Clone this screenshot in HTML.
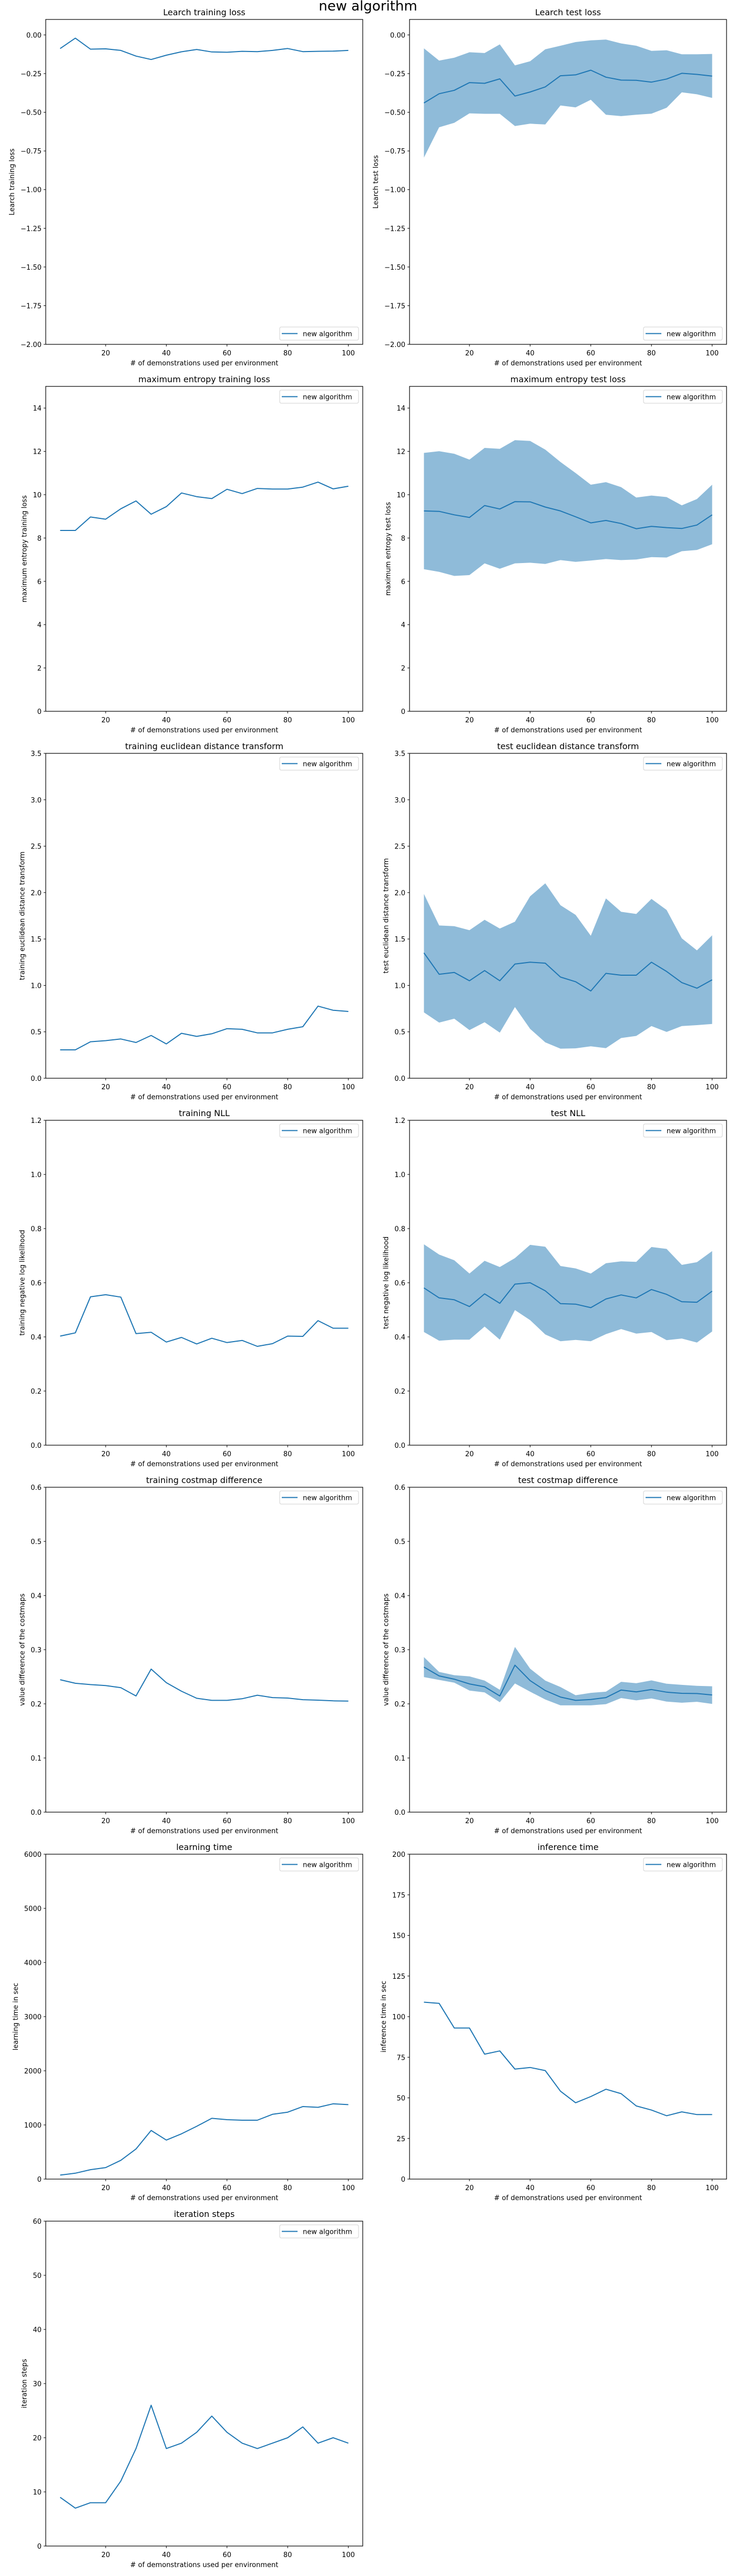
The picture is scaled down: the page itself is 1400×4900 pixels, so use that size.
<!DOCTYPE html>
<html><head><meta charset="utf-8"><style>
html,body{margin:0;padding:0;background:#fff;}
svg{display:block;font-family:"DejaVu Sans","Liberation Sans",sans-serif;}
</style></head><body>
<svg id="fig" width="1400" height="4900" viewBox="0 0 1400 4900" xmlns="http://www.w3.org/2000/svg">
<rect width="1400" height="4900" fill="#fff"/>
<text x="700" y="20" text-anchor="middle" font-size="26">new algorithm</text>
</svg>
<script>
const xCategories = [5,10,15,20,25,30,35,40,45,50,55,60,65,70,75,80,85,90,95,100];
const xTicks = [20,40,60,80,100];

const learchTrainMean = [-0.088,-0.021,-0.092,-0.09,-0.1,-0.137,-0.159,-0.131,-0.109,-0.094,-0.11,-0.112,-0.106,-0.108,-0.1,-0.088,-0.108,-0.106,-0.105,-0.1];
const learchTestMean = [-0.44,-0.38,-0.358,-0.308,-0.313,-0.284,-0.395,-0.369,-0.336,-0.264,-0.258,-0.228,-0.273,-0.292,-0.293,-0.305,-0.285,-0.248,-0.255,-0.266];
const learchTestUpper = [-0.087,-0.166,-0.147,-0.112,-0.117,-0.061,-0.197,-0.170,-0.093,-0.07,-0.046,-0.035,-0.03,-0.055,-0.07,-0.103,-0.099,-0.125,-0.125,-0.123];
const learchTestLower = [-0.793,-0.597,-0.568,-0.507,-0.51,-0.51,-0.589,-0.574,-0.579,-0.456,-0.468,-0.419,-0.516,-0.525,-0.516,-0.509,-0.471,-0.371,-0.384,-0.407];
const learchTicks = [-2.0,-1.75,-1.5,-1.25,-1.0,-0.75,-0.5,-0.25,0.0];

const maxentTrainMean = [8.35,8.35,8.97,8.87,9.35,9.71,9.10,9.45,10.08,9.91,9.82,10.25,10.05,10.29,10.26,10.26,10.35,10.58,10.27,10.39];
const maxentTestMean = [9.25,9.23,9.07,8.95,9.50,9.34,9.68,9.67,9.43,9.25,8.98,8.70,8.81,8.67,8.43,8.54,8.48,8.44,8.60,9.07];
const maxentTestUpper = [11.93,12.01,11.89,11.62,12.16,12.12,12.52,12.48,12.08,11.51,11.0,10.46,10.58,10.35,9.87,9.96,9.89,9.51,9.80,10.46];
const maxentTestLower = [6.56,6.44,6.25,6.29,6.83,6.58,6.83,6.86,6.80,6.98,6.90,6.96,7.03,6.98,7.01,7.12,7.10,7.39,7.45,7.71];
const maxentTicks = [0,2,4,6,8,10,12,14];

const edtTrainMean = [0.306,0.306,0.393,0.405,0.423,0.385,0.461,0.370,0.484,0.451,0.479,0.534,0.527,0.489,0.489,0.527,0.555,0.777,0.732,0.719];
const edtTestMean = [1.35,1.12,1.14,1.05,1.16,1.05,1.23,1.25,1.24,1.09,1.04,0.94,1.13,1.11,1.11,1.25,1.15,1.03,0.97,1.06];
const edtTestUpper = [1.985,1.646,1.638,1.595,1.707,1.613,1.686,1.96,2.10,1.864,1.76,1.535,1.937,1.793,1.77,1.932,1.813,1.507,1.378,1.54];
const edtTestLower = [0.709,0.600,0.641,0.519,0.603,0.491,0.767,0.532,0.387,0.319,0.322,0.344,0.324,0.433,0.456,0.562,0.499,0.562,0.572,0.585];
const edtTicks = [0.0,0.5,1.0,1.5,2.0,2.5,3.0,3.5];

const nllTrainMean = [0.403,0.415,0.548,0.556,0.547,0.412,0.417,0.381,0.398,0.374,0.395,0.379,0.387,0.365,0.375,0.403,0.402,0.460,0.432,0.432];
const nllTestMean = [0.581,0.544,0.537,0.512,0.559,0.524,0.595,0.600,0.570,0.523,0.521,0.508,0.540,0.555,0.544,0.575,0.557,0.530,0.528,0.569];
const nllTestUpper = [0.742,0.704,0.683,0.634,0.681,0.658,0.691,0.740,0.733,0.662,0.653,0.634,0.672,0.679,0.677,0.732,0.725,0.666,0.676,0.717];
const nllTestLower = [0.418,0.386,0.390,0.390,0.438,0.390,0.499,0.462,0.409,0.384,0.389,0.384,0.410,0.429,0.412,0.418,0.388,0.394,0.379,0.420];
const nllTicks = [0.0,0.2,0.4,0.6,0.8,1.0,1.2];

const costTrainMean = [0.2446,0.238,0.2355,0.2338,0.2298,0.2146,0.2642,0.239,0.2233,0.2103,0.2064,0.2064,0.2094,0.2159,0.2116,0.2107,0.2077,0.2068,0.2055,0.2051];
const costTestMean = [0.268,0.2516,0.2455,0.2368,0.2316,0.2146,0.2715,0.2429,0.2246,0.2125,0.2064,0.2081,0.2116,0.2255,0.222,0.2264,0.2216,0.2194,0.219,0.2164];
const costTestUpper = [0.2863,0.2589,0.2529,0.2507,0.2429,0.2259,0.305,0.265,0.2429,0.2311,0.2159,0.2203,0.2224,0.2407,0.2381,0.2433,0.2372,0.235,0.2333,0.2324];
const costTestLower = [0.2494,0.2442,0.239,0.2246,0.2211,0.2029,0.2377,0.2224,0.2081,0.1972,0.1972,0.1972,0.1994,0.2107,0.2064,0.2099,0.2042,0.202,0.2038,0.1999];
const costTicks = [0.0,0.1,0.2,0.3,0.4,0.5,0.6];

const learnTime = [74,109,174,213,347,556,898,720,836,975,1122,1097,1087,1087,1196,1236,1340,1325,1390,1375];
const learnTicks = [0,1000,2000,3000,4000,5000,6000];
const inferTime = [108.9,108.2,93.0,93.0,76.9,78.9,67.7,68.7,66.8,54.1,47.0,50.8,55.3,52.6,45.0,42.5,39.0,41.4,39.7,39.7];
const inferTicks = [0,25,50,75,100,125,150,175,200];
const iterSteps = [9,7,8,8,12,18,26,18,19,21,24,21,19,18,19,20,22,19,20,19];
const iterTicks = [0,10,20,30,40,50,60];

const NS = "http://www.w3.org/2000/svg";
const svg = document.getElementById('fig');
const COLOR = "#1f77b4";
function mk(tag, attrs, parent){
  const e = document.createElementNS(NS, tag);
  for (const k in attrs) e.setAttribute(k, attrs[k]);
  (parent||svg).appendChild(e);
  return e;
}
function fmt(v, dec){
  const s = Math.abs(v).toFixed(dec);
  return (v < 0 ? "\u2212" : "") + s;
}
function drawChart(o){
  const L = o.col === 0 ? 87 : 779, W = 603;
  const T = 37 + 698*o.row, H = 618;
  const g = mk('g', {});
  
  
  const xmin = 0.25, xmax = 104.75;
  const xs = v => L + (v - xmin)/(xmax - xmin)*W;
  const ys = v => T + H - (v - o.ymin)/(o.ymax - o.ymin)*H;
  // band
  if (o.upper){
    let d = xCategories.map((x,i)=>(i?'L':'M')+xs(x).toFixed(1)+','+ys(o.upper[i]).toFixed(1)).join('');
    for (let i = xCategories.length-1; i>=0; i--) d += 'L'+xs(xCategories[i]).toFixed(1)+','+ys(o.lower[i]).toFixed(1);
    const band = mk('path', {d: d+'Z', fill: COLOR, 'fill-opacity': 0.5, stroke: 'none'}, g);
    
    
  }
  const line = mk('polyline', {points: xCategories.map((x,i)=>xs(x).toFixed(1)+','+ys(o.mean[i]).toFixed(1)).join(' '), fill:'none', stroke: COLOR, 'stroke-width': 2, 'stroke-linejoin':'round'}, g);
  
  
  // frame
  const fr = mk('rect', {x: L, y: T, width: W, height: H, fill: 'none', stroke: '#000', 'stroke-width': 1.2}, g);
  
  
  // x ticks
  xTicks.forEach(t=>{
    const x = xs(t);
    mk('line', {x1:x, x2:x, y1:T+H, y2:T+H+4, stroke:'#000', 'stroke-width':1}, g);
    const tx = mk('text', {x:x, y:T+H+21, 'text-anchor':'middle', 'font-size':13}, g);
    tx.textContent = String(t);
    
    
  });
  // y ticks
  let maxw = 0;
  o.ticks.forEach(t=>{
    const y = ys(t);
    mk('line', {x1:L-4, x2:L, y1:y, y2:y, stroke:'#000', 'stroke-width':1}, g);
    const tx = mk('text', {x:L-8, y:y+5, 'text-anchor':'end', 'font-size':13}, g);
    tx.textContent = fmt(t, o.dec);
    
    
    try { maxw = Math.max(maxw, tx.getComputedTextLength()); } catch(e){}
  });
  // labels
  const xl = mk('text', {x: L+W/2, y: T+H+40, 'text-anchor':'middle', 'font-size':13}, g);
  xl.textContent = '# of demonstrations used per environment';
  
  
  const yx = L - 8 - maxw - 12;
  const yl = mk('text', {x: yx, y: T+H/2, 'text-anchor':'middle', 'font-size':13, transform:'rotate(-90 '+yx+' '+(T+H/2)+')'}, g);
  yl.textContent = o.ylabel;
  
  
  const ti = mk('text', {x: L+W/2, y: T-8, 'text-anchor':'middle', 'font-size':16}, g);
  ti.textContent = o.title;
  
  
  // legend
  const lw = 150, lh = 25;
  const lx = L + W - 8 - lw;
  const ly = o.legendBottom ? T + H - 8 - lh : T + 7;
  const lg = mk('g', {}, g);
  
  
  mk('rect', {x:lx, y:ly, width:lw, height:lh, rx:3, fill:'#fff', 'fill-opacity':0.8, stroke:'#d0d0d0', 'stroke-width':1}, lg);
  mk('line', {x1:lx+4, x2:lx+34, y1:ly+lh/2, y2:ly+lh/2, stroke:COLOR, 'stroke-width':2}, lg);
  const lt = mk('text', {x:lx+44, y:ly+lh/2+5, 'font-size':13}, lg);
  lt.textContent = 'new algorithm';
  
  
}

drawChart({name:'learch-training-loss', row:0, col:0, mean:learchTrainMean, ymin:-2, ymax:0.1, ticks:learchTicks, dec:2, title:'Learch training loss', ylabel:'Learch training loss', legendBottom:true});
drawChart({name:'learch-test-loss', row:0, col:1, mean:learchTestMean, upper:learchTestUpper, lower:learchTestLower, ymin:-2, ymax:0.1, ticks:learchTicks, dec:2, title:'Learch test loss', ylabel:'Learch test loss', legendBottom:true});
drawChart({name:'maxent-training-loss', row:1, col:0, mean:maxentTrainMean, ymin:0, ymax:15, ticks:maxentTicks, dec:0, title:'maximum entropy training loss', ylabel:'maximum entropy training loss'});
drawChart({name:'maxent-test-loss', row:1, col:1, mean:maxentTestMean, upper:maxentTestUpper, lower:maxentTestLower, ymin:0, ymax:15, ticks:maxentTicks, dec:0, title:'maximum entropy test loss', ylabel:'maximum entropy test loss'});
drawChart({name:'training-edt', row:2, col:0, mean:edtTrainMean, ymin:0, ymax:3.5, ticks:edtTicks, dec:1, title:'training euclidean distance transform', ylabel:'training euclidean distance transform'});
drawChart({name:'test-edt', row:2, col:1, mean:edtTestMean, upper:edtTestUpper, lower:edtTestLower, ymin:0, ymax:3.5, ticks:edtTicks, dec:1, title:'test euclidean distance transform', ylabel:'test euclidean distance transform'});
drawChart({name:'training-nll', row:3, col:0, mean:nllTrainMean, ymin:0, ymax:1.2, ticks:nllTicks, dec:1, title:'training NLL', ylabel:'training negative log likelihood'});
drawChart({name:'test-nll', row:3, col:1, mean:nllTestMean, upper:nllTestUpper, lower:nllTestLower, ymin:0, ymax:1.2, ticks:nllTicks, dec:1, title:'test NLL', ylabel:'test negative log likelihood'});
drawChart({name:'training-costmap-diff', row:4, col:0, mean:costTrainMean, ymin:0, ymax:0.6, ticks:costTicks, dec:1, title:'training costmap difference', ylabel:'value difference of the costmaps'});
drawChart({name:'test-costmap-diff', row:4, col:1, mean:costTestMean, upper:costTestUpper, lower:costTestLower, ymin:0, ymax:0.6, ticks:costTicks, dec:1, title:'test costmap difference', ylabel:'value difference of the costmaps'});
drawChart({name:'learning-time', row:5, col:0, mean:learnTime, ymin:0, ymax:6000, ticks:learnTicks, dec:0, title:'learning time', ylabel:'learning time in sec'});
drawChart({name:'inference-time', row:5, col:1, mean:inferTime, ymin:0, ymax:200, ticks:inferTicks, dec:0, title:'inference time', ylabel:'inference time in sec'});
drawChart({name:'iteration-steps', row:6, col:0, mean:iterSteps, ymin:0, ymax:60, ticks:iterTicks, dec:0, title:'iteration steps', ylabel:'iteration steps'});
</script>
</body></html>
